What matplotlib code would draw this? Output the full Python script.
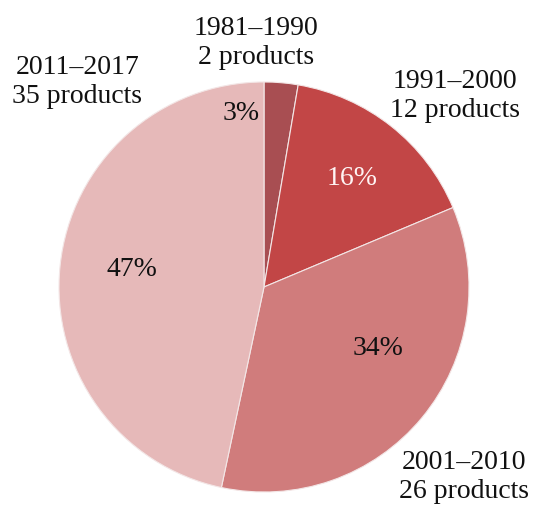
import matplotlib.pyplot as plt

periods = ['1981–1990', '1991–2000', '2001–2010', '2011–2017']
products = [2, 12, 26, 35]
pct_labels = ['3%', '16%', '34%', '47%']
colors = ['#a84e52', '#c24646', '#d07c7c', '#e6b9b9']

plt.rcParams['font.family'] = ['Liberation Serif', 'DejaVu Serif']

fig = plt.figure(figsize=(5.38, 5.05), dpi=100)
# pie centre at (264, 287) px, radius 205 px
cx, cy, r = 264, 287, 205
ax = fig.add_axes([(cx - r) / 538, (505 - cy - r) / 505, 2 * r / 538, 2 * r / 505])
wedges, _ = ax.pie(products, colors=colors, startangle=90, counterclock=False,
                   radius=1, wedgeprops=dict(edgecolor='#f3e6e6', linewidth=0.8))
ax.set_xlim(-1, 1)
ax.set_ylim(-1, 1)
ax.axis('off')

# outside labels
name_pos = [(-0.04, 1.19), (0.93, 0.93), (0.976, -0.925), (-0.91, 1.0)]
for p, n, (x, y) in zip(periods, products, name_pos):
    ax.text(x, y, p + '\n' + str(n) + ' products', ha='center', va='center',
            fontsize=20, linespacing=1.2, clip_on=False, color='#111111')

# percentages
pct_pos = [(-0.112, 0.844), (0.43, 0.53), (0.556, -0.30), (-0.644, 0.083)]
pct_colors = ['#111111', '#fff4f4', '#111111', '#111111']
for t, (x, y), c in zip(pct_labels, pct_pos, pct_colors):
    ax.text(x, y, t, ha='center', va='center', fontsize=20, color=c)

fig.savefig('out.png', dpi=100)
